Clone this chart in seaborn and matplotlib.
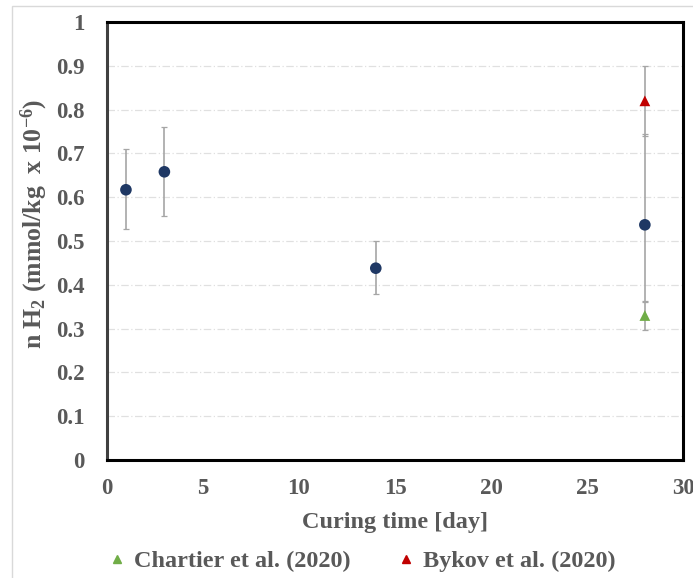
import matplotlib
matplotlib.use("Agg")
import matplotlib.pyplot as plt
import seaborn as sns
import pandas as pd
from matplotlib.lines import Line2D

# this study
days = [1, 3, 14, 28]
h2 = [0.617, 0.658, 0.438, 0.537]
h2_low = [0.527, 0.557, 0.380, 0.360]
h2_high = [0.710, 0.760, 0.500, 0.745]

# literature values
lit_labels = ["Chartier et al. (2020)", "Bykov et al. (2020)"]
lit_days = [28, 28]
lit_h2 = [0.33, 0.82]
lit_err = [0.033, 0.08]
lit_colors = ["#70ad47", "#c00000"]

sns.set_style("white")
plt.rcParams['font.family'] = ['Liberation Serif', 'DejaVu Serif']
plt.rcParams['mathtext.fontset'] = 'custom'
plt.rcParams['mathtext.rm'] = 'Liberation Serif:bold'
plt.rcParams['mathtext.it'] = 'Liberation Serif:bold'
plt.rcParams['mathtext.bf'] = 'Liberation Serif:bold'
txt = "#595959"

fig = plt.figure(figsize=(6.93, 5.78), dpi=100)
ax = fig.add_axes([0.154, 0.204, 0.832, 0.758])

# grid
for y in [0.1 * i for i in range(1, 10)]:
    ax.axhline(y, color="#e0e0e0", lw=0.9, ls=(0, (6, 2, 1, 2)), zorder=0)

# error bars
yerr = [[h - l for h, l in zip(h2, h2_low)], [u - h for h, u in zip(h2, h2_high)]]
ax.errorbar(days, h2, yerr=yerr, fmt="none", ecolor="#a6a6a6", elinewidth=1.2,
            capsize=2.5, capthick=0.9, zorder=2)
ax.errorbar(lit_days, lit_h2, yerr=lit_err, fmt="none", ecolor="#a6a6a6",
            elinewidth=1.2, capsize=2.5, capthick=0.9, zorder=2)

df = pd.DataFrame({"day": days, "h2": h2})
sns.scatterplot(data=df, x="day", y="h2", ax=ax, color="#1f3864", s=70,
                edgecolor="none", zorder=3)

for d, v, c in zip(lit_days, lit_h2, lit_colors):
    ax.scatter([d], [v], marker="^", color=c, s=60, zorder=4, edgecolor="none")

ax.set_xlim(0, 30)
ax.set_ylim(0, 1)
ax.set_xticks(range(0, 31, 5))
ax.set_yticks([0.1 * i for i in range(11)])
ax.set_yticklabels(["0"] + ["%.1f" % (0.1 * i) for i in range(1, 10)] + ["1"])
ax.tick_params(length=0, labelsize=16.5, colors=txt)
ax.tick_params(axis="x", pad=13)
ax.tick_params(axis="y", pad=16)
for lab in ax.get_xticklabels() + ax.get_yticklabels():
    lab.set_fontweight("bold")

ax.set_xlabel("Curing time [day]", fontsize=17.5, fontweight="bold", color=txt, labelpad=9)
ax.set_ylabel("n H$_2$ (mmol/kg  x 10$^{-6}$)", fontsize=18.5, fontweight="bold",
              color=txt)
ax.yaxis.set_label_coords(-0.098, 0.54)

for side in ["top", "right", "bottom"]:
    ax.spines[side].set_color("black")
    ax.spines[side].set_linewidth(2.2)
ax.spines["left"].set_color("#404040")
ax.spines["left"].set_linewidth(2.2)

handles = [Line2D([], [], marker="^", color=c, ls="none", markersize=6) for c in lit_colors]
fig.legend(handles, lit_labels, loc="lower center", ncol=2, frameon=False,
           bbox_to_anchor=(0.52, -0.028), handletextpad=0.2, columnspacing=1.8,
           prop={"size": 17.5, "weight": "bold"}, labelcolor=txt, handlelength=1)

fig.patches.append(plt.Rectangle((0.018, -0.01), 1.0, 1.0, transform=fig.transFigure,
                                 fill=False, edgecolor="#d9d9d9", lw=1))

fig.savefig("out.png", dpi=100)
